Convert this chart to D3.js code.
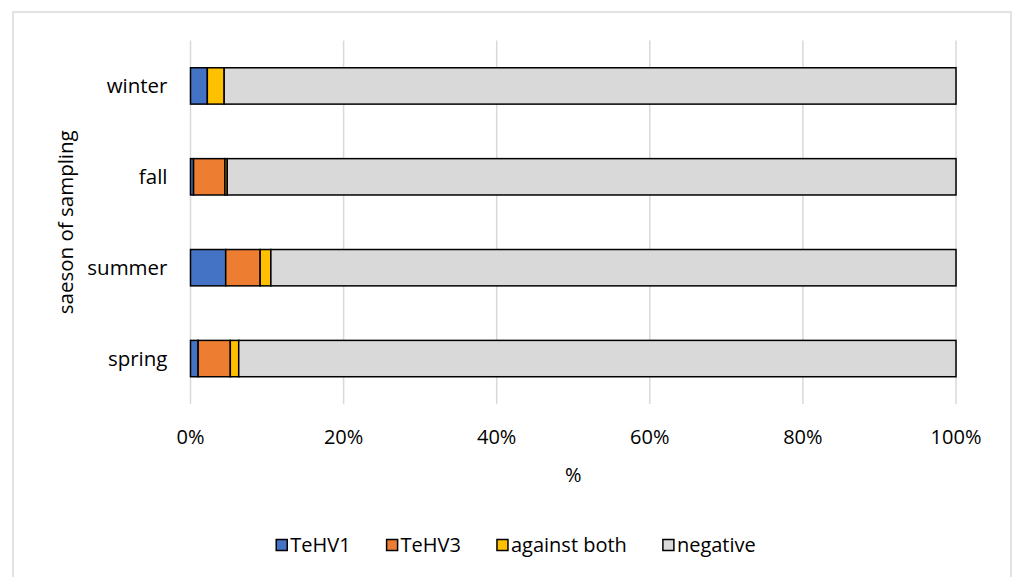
<!DOCTYPE html>
<html>
<head>
<meta charset="utf-8">
<script src="https://cdn.jsdelivr.net/npm/d3@7"></script>
<style>
  body { margin: 0; background: #fff; }
  svg text { font-family: "Open Sans", sans-serif; fill: #000; }
</style>
</head>
<body>
<div id="wrapper"></div>
<script>
// data (percent of samples)
const seasons = ["winter", "fall", "summer", "spring"]
const seriesNames = ["TeHV1", "TeHV3", "against both", "negative"]
const tehv1 = [2.2, 0.4, 4.6, 1.0]
const tehv3 = [0, 4.1, 4.5, 4.2]
const againstBoth = [2.2, 0.3, 1.4, 1.1]
const negative = [95.6, 95.2, 89.5, 93.7]
const xTicks = [0, 20, 40, 60, 80, 100]
const colors = ["#4472C4", "#ED7D31", "#FFC000", "#D9D9D9"]

const rows = seasons.map((s, i) => ({
  season: s,
  "TeHV1": tehv1[i],
  "TeHV3": tehv3[i],
  "against both": againstBoth[i],
  "negative": negative[i]
}))

const dimensions = {
  width: 1013,
  height: 577,
  margin: { top: 40.5, right: 57, bottom: 173, left: 190.5 }
}
dimensions.boundedWidth = dimensions.width - dimensions.margin.left - dimensions.margin.right
dimensions.boundedHeight = dimensions.height - dimensions.margin.top - dimensions.margin.bottom

const svg = d3.select("#wrapper")
  .append("svg")
    .attr("width", dimensions.width)
    .attr("height", dimensions.height)

// chart frame
svg.append("rect")
  .attr("x", 13)
  .attr("y", 12)
  .attr("width", 998)
  .attr("height", 620)
  .attr("fill", "none")
  .attr("stroke", "#d9d9d9")
  .attr("stroke-width", 1.5)

const bounds = svg.append("g")
  .attr("transform", `translate(${dimensions.margin.left},${dimensions.margin.top})`)

const x = d3.scaleLinear()
  .domain([0, 100])
  .range([0, dimensions.boundedWidth])

const y = d3.scaleBand()
  .domain(seasons)
  .range([0, dimensions.boundedHeight])
  .paddingInner(0.6)
  .paddingOuter(0.3)

// gridlines
bounds.append("g")
  .selectAll("line")
  .data(xTicks)
  .enter().append("line")
    .attr("x1", d => x(d))
    .attr("x2", d => x(d))
    .attr("y1", 0)
    .attr("y2", dimensions.boundedHeight)
    .attr("stroke", "#d9d9d9")
    .attr("stroke-width", 1.5)

// x tick labels
bounds.append("g")
  .selectAll("text")
  .data(xTicks)
  .enter().append("text")
    .attr("x", d => x(d))
    .attr("y", dimensions.boundedHeight + 33)
    .attr("dy", "0.35em")
    .attr("text-anchor", "middle")
    .style("font-size", "20px")
    .text(d => d + "%")

// category labels
bounds.append("g")
  .selectAll("text")
  .data(seasons)
  .enter().append("text")
    .attr("x", -23)
    .attr("y", d => y(d) + y.bandwidth() / 2)
    .attr("dy", "0.35em")
    .attr("text-anchor", "end")
    .style("font-size", "20.5px")
    .text(d => d)

// stacked bars
const stacked = d3.stack().keys(seriesNames)(rows)

bounds.append("g")
  .selectAll("g")
  .data(stacked)
  .enter().append("g")
    .attr("fill", (d, i) => colors[i])
  .selectAll("rect")
  .data(d => d)
  .enter().append("rect")
    .attr("x", d => x(d[0]))
    .attr("y", d => y(d.data.season))
    .attr("width", d => x(d[1]) - x(d[0]))
    .attr("height", y.bandwidth())
    .attr("stroke", "#000")
    .attr("stroke-width", 1.5)

// axis titles
svg.append("text")
  .attr("x", dimensions.margin.left + dimensions.boundedWidth / 2)
  .attr("y", 475)
  .attr("dy", "0.35em")
  .attr("text-anchor", "middle")
  .style("font-size", "20px")
  .text("%")

svg.append("text")
  .attr("transform", `translate(66,${dimensions.margin.top + dimensions.boundedHeight / 2}) rotate(-90)`)
  .attr("dy", "0.35em")
  .attr("text-anchor", "middle")
  .style("font-size", "20.5px")
  .text("saeson of sampling")

// legend, centred on the chart frame
const legend = svg.append("g")
const items = legend.selectAll("g")
  .data(seriesNames)
  .enter().append("g")

items.append("rect")
  .attr("width", 11)
  .attr("height", 11)
  .attr("y", -5.5)
  .attr("fill", (d, i) => colors[i])
  .attr("stroke", "#000")
  .attr("stroke-width", 1.5)

items.append("text")
  .attr("x", 14)
  .attr("dy", "0.35em")
  .style("font-size", "20px")
  .text(d => d)

let offset = 0
const gap = 36
items.each(function() {
  const g = d3.select(this)
  g.attr("transform", `translate(${offset},0)`)
  offset += 14 + g.select("text").node().getComputedTextLength() + gap
})
offset -= gap
legend.attr("transform", `translate(${516 - offset / 2},545)`)
</script>
</body>
</html>
